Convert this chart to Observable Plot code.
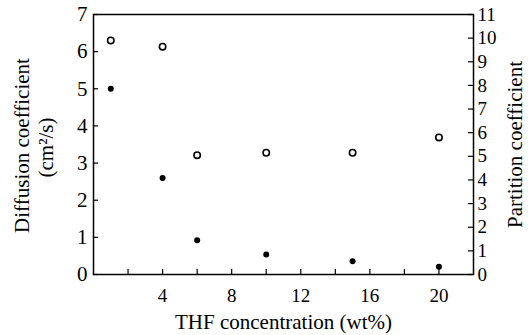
<!DOCTYPE html>
<html>
<head>
<meta charset="utf-8">
<script src="https://cdn.jsdelivr.net/npm/d3@7"></script>
<script src="https://cdn.jsdelivr.net/npm/@observablehq/plot@0.6"></script>
<style>
  html, body { margin: 0; padding: 0; background: #fff; }
  #chart svg, #chart svg text { font-family: "Liberation Serif", "DejaVu Serif", "Times New Roman", serif !important; }
</style>
</head>
<body>
<div id="chart"></div>
<script>
// THF concentration (wt%)
const thf = [1, 4, 6, 10, 15, 20];
// Diffusion coefficient (cm²/s) — filled dots, left axis
const diffusion = [5.0, 2.6, 0.92, 0.54, 0.36, 0.21];
// Partition coefficient — open circles, right axis
const partition = [9.9, 9.64, 5.05, 5.15, 5.15, 5.8];
// axis ticks
const leftTicks = [0, 1, 2, 3, 4, 5, 6, 7];
const rightTicks = [0, 1, 2, 3, 4, 5, 6, 7, 8, 9, 10, 11];
const xTicks = [2, 4, 6, 8, 10, 12, 14, 16, 18, 20];
const xLabelTicks = [4, 8, 12, 16, 20];

const leftMax = 7, rightMax = 11;
const toLeft = v => v * leftMax / rightMax;

const diffData = thf.map((x, i) => ({x, y: diffusion[i]}));
const partData = thf.map((x, i) => ({x, y: partition[i]}));

const font = "'Liberation Serif', 'DejaVu Serif', serif";
const W = 532, H = 335, mL = 93, mR = 59, mT = 14, mB = 61;
const frameW = W - mL - mR, frameH = H - mT - mB, tick = 5;

const chart = Plot.plot({
  width: W,
  height: H,
  marginLeft: mL,
  marginRight: mR,
  marginTop: mT,
  marginBottom: mB,
  style: {fontSize: "17px", color: "#000", background: "#fff"},
  x: {domain: [0, 22]},
  y: {domain: [0, leftMax]},
  marks: [
    Plot.frame({stroke: "#000", strokeWidth: 1.5}),
    // inward tick marks
    Plot.tickY(leftTicks, {y: d => d, insetRight: frameW - tick, stroke: "#000", strokeWidth: 1.2}),
    Plot.tickY(rightTicks.map(toLeft), {y: d => d, insetLeft: frameW - tick, stroke: "#000", strokeWidth: 1.2}),
    Plot.tickX(xTicks, {x: d => d, insetTop: frameH - tick, stroke: "#000", strokeWidth: 1.2}),
    // tick labels
    Plot.axisY(leftTicks, {anchor: "left", tickSize: 0, tickPadding: 6, label: null, fontSize: 21}),
    Plot.axisY(rightTicks.map(toLeft), {anchor: "right", tickSize: 0, tickPadding: 4, label: null,
      tickFormat: d => String(Math.round(d * rightMax / leftMax)), fontSize: 19}),
    Plot.axisX(xTicks, {anchor: "bottom", tickSize: 0, tickPadding: 14, label: null,
      tickFormat: d => xLabelTicks.includes(d) ? String(d) : "", fontSize: 19}),
    Plot.dot(partData, {x: "x", y: d => toLeft(d.y), r: 3.2, stroke: "#000", strokeWidth: 1.6, fill: "#fff"}),
    Plot.dot(diffData, {x: "x", y: "y", r: 3, fill: "#000", stroke: "none"}),
    Plot.text(["Diffusion coefficient"], {frameAnchor: "left", textAnchor: "middle", rotate: -90, dx: -71, dy: 1, fontSize: 21, fill: "#000"}),
    Plot.text(["(cm²/s)"], {frameAnchor: "left", textAnchor: "middle", rotate: -90, dx: -47, dy: 3, fontSize: 21, fill: "#000"}),
    Plot.text(["Partition coefficient"], {frameAnchor: "right", textAnchor: "middle", rotate: -90, dx: 42, dy: 0, fontSize: 21, fill: "#000"}),
    Plot.text(["THF concentration (wt%)"], {frameAnchor: "bottom", textAnchor: "middle", dy: 54, fontSize: 21, fill: "#000"})
  ]
});
chart.querySelectorAll("text").forEach(t => t.setAttribute("font-family", font));
document.getElementById("chart").appendChild(chart);
</script>
</body>
</html>
